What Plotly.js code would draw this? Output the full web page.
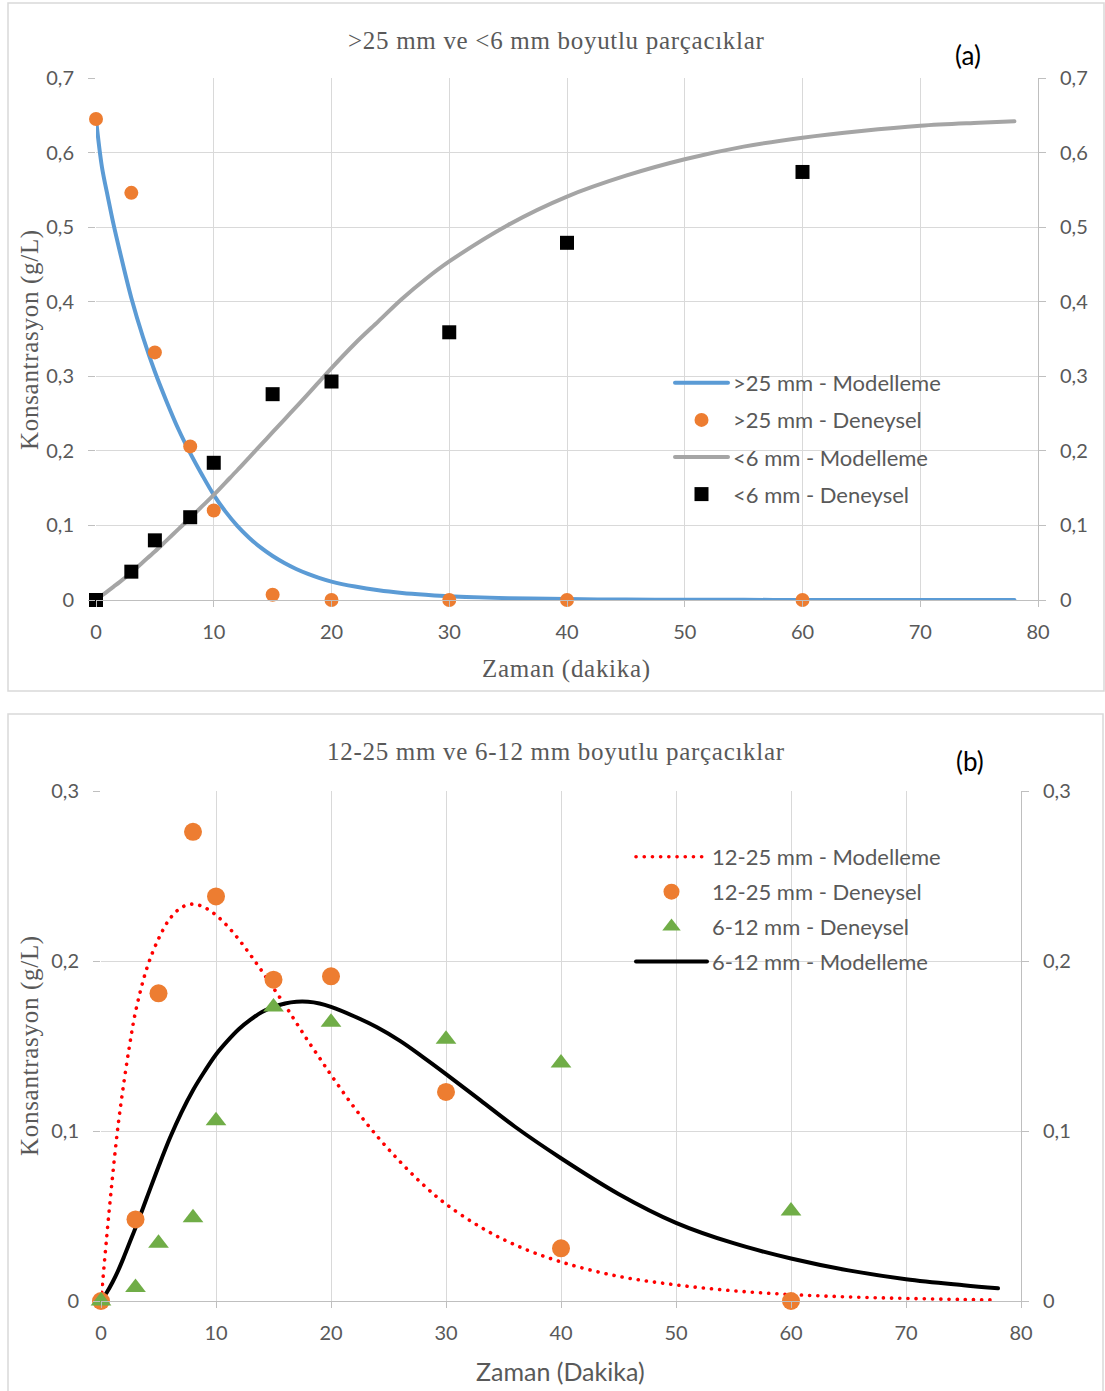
<!DOCTYPE html>
<html>
<head>
<meta charset="utf-8">
<script src="https://cdn.plot.ly/plotly-3.0.1.min.js"></script>
<style>
  html, body { margin: 0; padding: 0; background: #ffffff; }
  #chart { width: 1105px; height: 1391px; }
  /* rounded line ends and round dots for the dotted model curve */
  #chart path.js-line { stroke-linecap: round; stroke-linejoin: round; }
</style>
</head>
<body>
<div id="chart"></div>
<script>
// ---- Panel (a): >25 mm and <6 mm particles ----
const timeExpA = [0, 3, 5, 8, 10, 15, 20, 30, 40, 60];
const coarseExp = [0.645, 0.546, 0.332, 0.206, 0.120, 0.007, 0, 0, 0, 0];
const fineExp   = [0, 0.038, 0.080, 0.111, 0.184, 0.276, 0.293, 0.359, 0.479, 0.574];

const timeModelA = [0, 0.5, 1, 1.5, 2, 3, 4, 5, 6, 7, 8, 9, 10, 11, 12, 13, 14, 15, 16, 17, 18,
                    19, 20, 22, 24, 26, 28, 30, 35, 40, 45, 50, 55, 60, 65, 70, 75, 78];
const coarseModel = [0.645, 0.581, 0.541, 0.503, 0.469, 0.405, 0.352, 0.306, 0.266, 0.229, 0.197,
                     0.168, 0.141, 0.1185, 0.0995, 0.0836, 0.0702, 0.059, 0.0496, 0.0416, 0.035,
                     0.0294, 0.0247, 0.018, 0.013, 0.0095, 0.007, 0.005, 0.0025, 0.0012,
                     0.0006, 0.0003, 0.0002, 0.0001, 0, 0, 0, 0];
const fineModel = [0, 0.006, 0.012, 0.018, 0.024, 0.037, 0.051, 0.065, 0.080, 0.095, 0.110,
                   0.1255, 0.141, 0.1575, 0.174, 0.191, 0.208, 0.225, 0.242, 0.259, 0.276,
                   0.2935, 0.311, 0.344, 0.374, 0.404, 0.4305, 0.454, 0.503, 0.541,
                   0.569, 0.591, 0.608, 0.620, 0.629, 0.636, 0.640, 0.642];

// ---- Panel (b): 12-25 mm and 6-12 mm particles ----
const timeExpB = [0, 3, 5, 8, 10, 15, 20, 30, 40, 60];
const midExp   = [0, 0.048, 0.181, 0.276, 0.238, 0.189, 0.191, 0.123, 0.031, 0];
const smallExp = [0, 0.008, 0.034, 0.049, 0.106, 0.173, 0.164, 0.154, 0.140, 0.053];

const timeModelB = [0, 0.5, 1, 1.5, 2, 2.5, 3, 4, 5, 6, 7, 8, 9, 10, 11, 12, 13, 14, 15, 16, 17,
                    18, 19, 20, 22, 24, 26, 28, 30, 33, 36, 40, 45, 50, 55, 60, 65, 70, 75, 78];
const midModel = [0, 0.038, 0.073, 0.104, 0.129, 0.151, 0.170, 0.196, 0.213, 0.225, 0.2315, 0.2335,
                  0.2315, 0.227, 0.2205, 0.2125, 0.2035, 0.194, 0.184, 0.174, 0.1635,
                  0.153, 0.143, 0.133, 0.114, 0.097, 0.082, 0.0685, 0.057, 0.0435, 0.033, 0.023,
                  0.0145, 0.0095, 0.006, 0.0038, 0.0024, 0.0015, 0.0009, 0.0006];
const smallModel = [0, 0.005, 0.011, 0.018, 0.026, 0.0345, 0.043, 0.061, 0.079, 0.096, 0.111, 0.124,
                    0.135, 0.145, 0.153, 0.160, 0.1655, 0.170, 0.173, 0.175, 0.176,
                    0.176, 0.175, 0.173, 0.1675, 0.161, 0.153, 0.1435, 0.1335, 0.118, 0.1025, 0.084,
                    0.063, 0.046, 0.034, 0.025, 0.018, 0.0128, 0.0093, 0.0075];

const xTicks = [0, 10, 20, 30, 40, 50, 60, 70, 80];

// pixel -> paper helpers for a 1105 x 1391 canvas
const W = 1105, H = 1391;
const px = x => x / W;
const py = y => 1 - y / H;

const SANS = 'Lato, "Open Sans", sans-serif';
const SERIF = '"Liberation Serif", "DejaVu Serif", serif';
const GREY_TXT = '#595959';
const GRID = '#d9d9d9';
const AXIS = '#bfbfbf';

const traces = [
  { x: timeModelA, y: coarseModel, name: '>25 mm - Modelleme', type: 'scatter', mode: 'lines',
    line: { color: '#5B9BD5', width: 4, shape: 'spline', smoothing: 1 },
    xaxis: 'x', yaxis: 'y', legend: 'legend', legendgroup: 'a1' },
  { x: timeExpA, y: coarseExp, name: '>25 mm - Deneysel', type: 'scatter', mode: 'markers',
    marker: { color: '#ED7D31', size: 14, symbol: 'circle' }, cliponaxis: false,
    xaxis: 'x', yaxis: 'y', legend: 'legend', legendgroup: 'a2' },
  { x: timeModelA, y: fineModel, name: '&lt;6 mm - Modelleme', type: 'scatter', mode: 'lines',
    line: { color: '#A5A5A5', width: 4, shape: 'spline', smoothing: 1 },
    xaxis: 'x', yaxis: 'y', legend: 'legend', legendgroup: 'a3' },
  { x: timeExpA, y: fineExp, name: '&lt;6 mm - Deneysel', type: 'scatter', mode: 'markers',
    marker: { color: '#000000', size: 14, symbol: 'square' }, cliponaxis: false,
    xaxis: 'x', yaxis: 'y', legend: 'legend', legendgroup: 'a4' },
  // right-hand value axis of panel (a)
  { x: [], y: [], type: 'scatter', mode: 'none', showlegend: false, hoverinfo: 'skip',
    xaxis: 'x', yaxis: 'y3' },

  { x: timeModelB, y: midModel, name: '12-25 mm - Modelleme', type: 'scatter', mode: 'lines',
    line: { color: '#FF0000', width: 3.6, dash: '0.1px,8.1px', shape: 'spline', smoothing: 1 },
    xaxis: 'x2', yaxis: 'y2', legend: 'legend2', legendgroup: 'b1', legendrank: 1 },
  { x: timeModelB, y: smallModel, name: '6-12 mm - Modelleme', type: 'scatter', mode: 'lines',
    line: { color: '#000000', width: 4, shape: 'spline', smoothing: 1 },
    xaxis: 'x2', yaxis: 'y2', legend: 'legend2', legendgroup: 'b4', legendrank: 4 },
  { x: timeExpB, y: midExp, name: '12-25 mm - Deneysel', type: 'scatter', mode: 'markers',
    marker: { color: '#ED7D31', size: 18, symbol: 'circle' }, cliponaxis: false,
    xaxis: 'x2', yaxis: 'y2', legend: 'legend2', legendgroup: 'b2', legendrank: 2 },
  { x: timeExpB, y: smallExp, name: '6-12 mm - Deneysel', type: 'scatter', mode: 'markers',
    marker: { color: '#70AD47', size: 18, symbol: 'triangle-up' }, cliponaxis: false,
    xaxis: 'x2', yaxis: 'y2', legend: 'legend2', legendgroup: 'b3', legendrank: 3 },
  // right-hand value axis of panel (b)
  { x: [], y: [], type: 'scatter', mode: 'none', showlegend: false, hoverinfo: 'skip',
    xaxis: 'x2', yaxis: 'y4' }
];

function xAxis(domain, anchor) {
  return {
    domain: domain, anchor: anchor, range: [0, 80], tickvals: xTicks,
    showgrid: true, gridcolor: GRID, gridwidth: 1, zeroline: false,
    showline: true, linecolor: AXIS, linewidth: 1,
    ticks: 'outside', ticklen: 6, tickcolor: AXIS, tickwidth: 1,
    ticklabelstandoff: 8,
    tickfont: { family: SANS, size: 20, color: GREY_TXT }, fixedrange: true
  };
}
function yAxis(domain, anchor, top, side, overlay) {
  const ax = {
    domain: domain, anchor: anchor, range: [0, top], dtick: 0.1, tick0: 0,
    showgrid: !overlay, gridcolor: GRID, gridwidth: 1, zeroline: false,
    showline: !!overlay, linecolor: AXIS, linewidth: 1,
    ticks: 'outside', ticklen: 7, tickcolor: AXIS, tickwidth: 1,
    ticklabelstandoff: 10,
    tickfont: { family: SANS, size: 20, color: GREY_TXT }, fixedrange: true, side: side
  };
  if (overlay) ax.overlaying = overlay;
  return ax;
}

const domXA = [px(96), px(1038)];
const domYA = [py(600), py(78)];
const domXB = [px(101), px(1021)];
const domYB = [py(1301), py(791)];

// centred caption; the serif ones are set slightly open
function caption(text, x, y, family, size, color, spacing, angle) {
  const body = spacing ? '<span style="letter-spacing:' + spacing + 'px">' + text + '</span>' : text;
  return {
    text: body,
    xref: 'paper', yref: 'paper', x: px(x), y: py(y),
    xanchor: 'center', yanchor: 'middle', showarrow: false, textangle: angle || 0,
    font: { family: family, size: size, color: color }
  };
}

const layout = {
  width: W, height: H,
  margin: { l: 0, r: 0, t: 0, b: 0 },
  paper_bgcolor: '#ffffff', plot_bgcolor: 'rgba(0,0,0,0)',
  separators: ',.',
  showlegend: true,
  xaxis: xAxis(domXA, 'y'),
  yaxis: yAxis(domYA, 'x', 0.7, 'left', null),
  yaxis3: yAxis(domYA, 'x', 0.7, 'right', 'y'),
  xaxis2: xAxis(domXB, 'y2'),
  yaxis2: yAxis(domYB, 'x2', 0.3, 'left', null),
  yaxis4: yAxis(domYB, 'x2', 0.3, 'right', 'y2'),
  legend: {
    x: px(670), y: py(362), xanchor: 'left', yanchor: 'top',
    bgcolor: 'rgba(0,0,0,0)', borderwidth: 0,
    font: { family: SANS, size: 22, color: GREY_TXT },
    traceorder: 'grouped', tracegroupgap: 5.5, itemwidth: 53
  },
  legend2: {
    x: px(631), y: py(836), xanchor: 'left', yanchor: 'top',
    bgcolor: 'rgba(0,0,0,0)', borderwidth: 0,
    font: { family: SANS, size: 22, color: GREY_TXT },
    traceorder: 'grouped', tracegroupgap: 3.3, itemwidth: 71
  },
  shapes: [
    { type: 'rect', xref: 'paper', yref: 'paper', x0: px(8), x1: px(1104), y0: py(691), y1: py(3),
      line: { color: GRID, width: 1.5 }, layer: 'below' },
    { type: 'rect', xref: 'paper', yref: 'paper', x0: px(8), x1: px(1103), y0: py(1400), y1: py(714),
      line: { color: GRID, width: 1.5 }, layer: 'below' }
  ],
  annotations: [
    caption('>25 mm ve &lt;6 mm boyutlu parçacıklar', 556, 40, SERIF, 25, GREY_TXT, 0.7),
    caption('(a)', 968, 55, SANS, 26, '#000000', 0),
    caption('Konsantrasyon (g/L)', 30, 340, SERIF, 25, GREY_TXT, 0.7, -90),
    caption('Zaman (dakika)', 566, 669, SERIF, 25, GREY_TXT, 0.7),

    caption('12-25 mm ve 6-12 mm boyutlu parçacıklar', 556, 751, SERIF, 25, GREY_TXT, 0.7),
    caption('(b)', 970, 761, SANS, 26, '#000000', 0),
    caption('Konsantrasyon (g/L)', 30, 1046, SERIF, 25, GREY_TXT, 0.7, -90),
    caption('Zaman (Dakika)', 560, 1371, SANS, 25, GREY_TXT, 0)
  ]
};

Plotly.newPlot('chart', traces, layout, { staticPlot: true, displayModeBar: false });
</script>
</body>
</html>
